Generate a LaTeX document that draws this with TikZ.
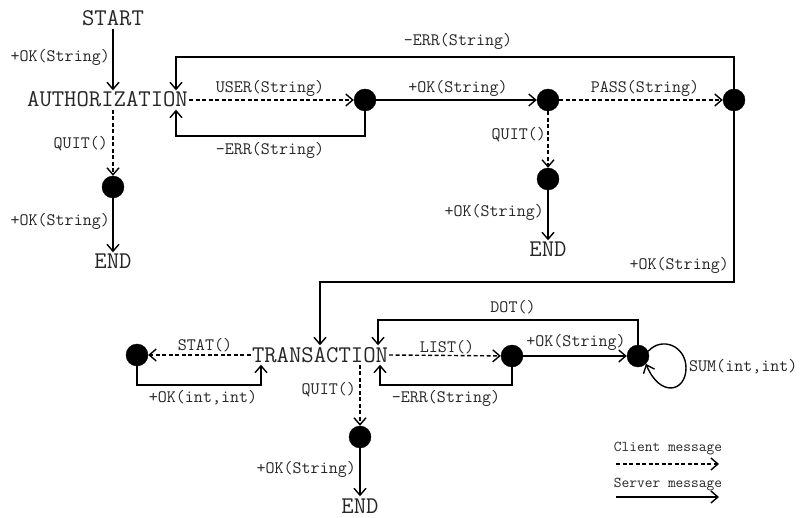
\documentclass[tikz,border=0pt]{standalone}
\usepackage{fontspec}
\usetikzlibrary{arrows.meta,calc}
\begin{document}
\begin{tikzpicture}[x=1pt,y=-1pt,
  every node/.style={font=\ttfamily\fontsize{17.5}{18}\selectfont, text=black!85},
  state/.style={font=\ttfamily\fontsize{24}{25}\selectfont, inner xsep=1pt, inner ysep=2.5pt, text height=14pt, text depth=0pt},
  lbl/.style={inner sep=0pt},
  legtext/.style={font=\ttfamily\fontsize{15}{16}\selectfont, inner sep=0pt},
  dotnode/.style={circle, fill=black, draw=black, minimum size=22pt, inner sep=0pt},
  conn/.style={line width=1.4pt, -{Straight Barb[length=7pt,width=12pt,line width=1.4pt]}},
  client/.style={conn, dash pattern=on 4pt off 2.5pt},
  server/.style={conn}]
\useasboundingbox (0,0) rectangle (802,518);

% states
\node[state] (start) at (113,19) {START};
\node[state] (auth) at (107.5,100) {AUTHORIZATION};
\node[state] (endA) at (113,262) {END};
\node[state] (endB) at (548,250) {END};
\node[state] (trans) at (320,355) {TRANSACTION};
\node[state] (endC) at (360,506) {END};

% dots
\node[dotnode] (dq) at (113,187) {};
\node[dotnode] (d1) at (365,100) {};
\node[dotnode] (d2) at (548,100) {};
\node[dotnode] (d3) at (734,100) {};
\node[dotnode] (d2q) at (548,179) {};
\node[dotnode] (ds) at (137,355) {};
\node[dotnode] (dl) at (512,356) {};
\node[dotnode] (dd) at (638,356) {};
\node[dotnode] (dt) at (360,437) {};

% bend coordinates
\coordinate (eA1) at (176,136);
\coordinate (eT1) at (176,57);
\coordinate (oC1) at (320,282);
\coordinate (oI1) at (261,385);
\coordinate (eC1) at (380,385);
\coordinate (dC1) at (378,320);

% connectors (authorization)
\draw[server] (start.south -| 113,0) -- (auth.north -| 113,0);
\draw[client] (auth.south -| dq) -- (dq);
\draw[server] (dq) -- (endA);
\draw[client] (auth.east) -- (d1);
\draw[server] (d1.south) |- (eA1) -- (auth.south -| eA1);
\draw[server] (d1) -- (d2);
\draw[client] (d2) -- (d3);
\draw[server] (d3.north) |- (eT1) -- (auth.north -| eT1);
\draw[client] (d2) -- (d2q);
\draw[server] (d2q) -- (endB);
\draw[server] (d3.south) |- (oC1) -- (trans.north -| oC1);

% connectors (transaction)
\draw[client] (trans.west) -- (ds);
\draw[server] (ds.south) |- (oI1) -- (trans.south -| oI1);
\draw[client] (trans.south -| dt) -- (dt);
\draw[server] (dt) -- (endC);
\draw[client] (trans.east) -- (dl);
\draw[server] (dl.south) |- (eC1) -- (trans.south -| eC1);
\draw[server] (dl) -- (dd);
\draw[server] (dd.north) |- (dC1) -- (trans.north -| dC1);
\draw[server] (dd.25) .. controls (662,336) and (686,346) .. (686,368)
  .. controls (686,392) and (660,398) .. (dd.-45);

% labels
\node[lbl, anchor=east] (l1) at (110,57) {+OK(String)};
\node[lbl, anchor=east] (l2) at (108,144) {QUIT()};
\node[lbl, anchor=east] (l3) at (110,221) {+OK(String)};
\node[lbl] (l4) at (270,88) {USER(String)};
\node[lbl] (l5) at (270,150) {-ERR(String)};
\node[lbl] (l6) at (458,41) {-ERR(String)};
\node[lbl] (l7) at (458,88) {+OK(String)};
\node[lbl] (l8) at (645,88) {PASS(String)};
\node[lbl, anchor=east] (l9) at (546,135) {QUIT()};
\node[lbl, anchor=east] (l10) at (544,212) {+OK(String)};
\node[lbl, anchor=east] (l11) at (729,265) {+OK(String)};
\node[lbl] (l12) at (205,345) {STAT()};
\node[lbl] (l13) at (203,398) {+OK(int,int)};
\node[lbl, anchor=east] (l14) at (356,390) {QUIT()};
\node[lbl, anchor=east] (l15) at (356,469) {+OK(String)};
\node[lbl] (l16) at (447,347) {LIST()};
\node[lbl] (l17) at (446,398) {-ERR(String)};
\node[lbl] (l18) at (576,342) {+OK(String)};
\node[lbl] (l19) at (513,307) {DOT()};
\node[lbl, anchor=west] (l20) at (689,367) {SUM(int,int)};

% legend
\node[legtext] (lc) at (668,449) {Client message};
\node[legtext] (ls) at (668,485) {Server message};
\coordinate (lg1) at (616,464);
\coordinate (lg2) at (719,464);
\coordinate (lg3) at (616,497);
\coordinate (lg4) at (719,497);
\draw[client] (lg1) -- (lg2);
\draw[server] (lg3) -- (lg4);
\end{tikzpicture}
\end{document}
